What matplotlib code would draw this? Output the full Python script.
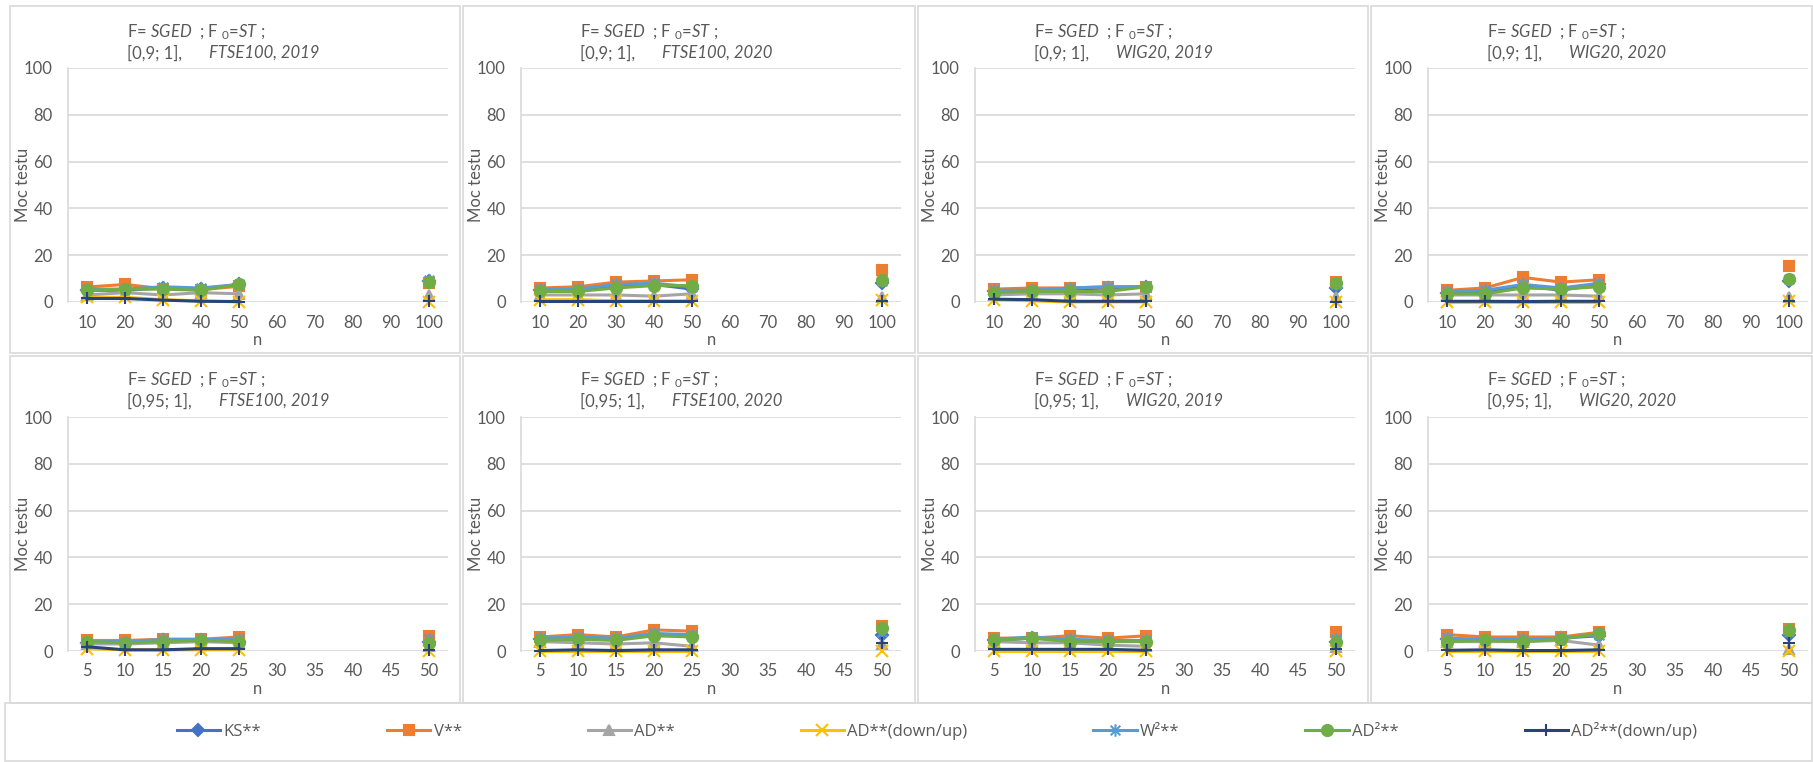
import numpy as np
import matplotlib
matplotlib.use("Agg")
import matplotlib.pyplot as plt
from matplotlib.path import Path
from matplotlib.patches import Rectangle

plt.rcParams['font.family'] = ['Lato', 'DejaVu Sans']
plt.rcParams['mathtext.fontset'] = 'custom'
plt.rcParams['mathtext.rm'] = 'Lato'
plt.rcParams['mathtext.it'] = 'Lato:italic'

# categories on the x axis (top row / bottom row); empty slots carry no data
n_top = ['10', '20', '30', '40', '50', '60', '70', '80', '90', '100']
n_bottom = ['5', '10', '15', '20', '25', '30', '35', '40', '45', '50']
data_slots = [0, 1, 2, 3, 4, 9]

intervals = ['[0,9; 1],'] * 4 + ['[0,95; 1],'] * 4
samples = ['FTSE100, 2019', 'FTSE100, 2020', 'WIG20, 2019', 'WIG20, 2020'] * 2

# power of each test (%), one row per panel, values at data_slots
ks = [[5, 5, 6, 5.5, 7.5, 9],
      [5, 5, 7, 7.5, 5.5, 8],
      [4.5, 4.5, 5.5, 6, 6.5, 6],
      [4, 4.5, 7, 5, 7.5, 9],
      [3.5, 3.5, 4.5, 4.5, 4, 4],
      [5, 5.5, 5, 7, 6.5, 7],
      [4.5, 5.5, 4.5, 4.5, 4, 4],
      [5, 5, 4.5, 5.5, 6.5, 7]]
v = [[6.4, 7.5, 5.7, 5.3, 6.7, 8],
     [6, 6.5, 8.5, 9, 9.5, 13.5],
     [5.5, 6, 6, 6.5, 6.5, 8.5],
     [5, 6, 10.5, 8.5, 9.5, 15.5],
     [4.5, 4.5, 5, 5, 6, 6.5],
     [6, 7, 6, 9, 8.5, 10.5],
     [5.5, 5.5, 6.5, 5.5, 6.5, 8],
     [7, 6, 6, 6, 8, 9.5]]
ad = [[3, 4, 3, 4, 3.5, 3],
      [3, 3, 3, 2.5, 3.5, 2],
      [3, 3.5, 3.5, 3, 3.5, 2],
      [3, 3, 3, 3, 2.5, 2],
      [3, 3, 3.5, 4, 3.5, 2],
      [4, 3.5, 3, 3.5, 2, 3],
      [4, 3.5, 3.5, 2.5, 2, 1.5],
      [4, 4, 4, 4.5, 2.5, 1]]
ad_du = [[2, 2, 1, 0.5, 0, 0],
         [1, 1, 0.5, 0.5, 0.5, 1],
         [1, 0.5, 0, 0, 0, 0],
         [0, 0, 0, 0, 0, 0.5],
         [1, 0.5, 0.5, 0.5, 0.5, 0],
         [0, 0, 0, 0, 0, 0],
         [0, 0, 0, 0, 0, 0],
         [0, 0, 0, 0, 0, 0]]
w2 = [[5.5, 5.5, 6.5, 6, 7.5, 9.5],
      [5.5, 5.5, 7.5, 8, 6.5, 9],
      [5, 5, 6, 6.5, 6.5, 7.5],
      [4.5, 5, 7.5, 6, 8, 10],
      [4, 4, 5, 5, 5, 5],
      [5.5, 6, 5.5, 7.5, 7, 8],
      [5, 6, 5, 4.5, 4.5, 5],
      [5.5, 5, 5, 5.5, 7, 8]]
ad2 = [[5, 5.5, 5.5, 5, 7.5, 8.5],
       [4.5, 4.5, 6, 7, 7, 9.5],
       [4, 4.5, 4.5, 4.5, 6.5, 8],
       [3.5, 3.5, 6, 5.5, 6.5, 10],
       [4, 3.5, 4, 4.5, 4, 3.5],
       [4.5, 5, 4.5, 6.5, 6, 10],
       [4.5, 5.5, 4, 4, 4, 4],
       [4, 4.5, 4, 5, 7.5, 9]]
ad2_du = [[1.5, 1.5, 0.8, 0.3, 0.2, 0.3],
          [0.5, 0.5, 0.5, 0.5, 0.5, 0.5],
          [1.2, 1, 0.3, 0.3, 0.3, 0.2],
          [0.3, 0.3, 0.2, 0.3, 0.3, 0.5],
          [1.8, 0.5, 0.5, 1, 1, 0.5],
          [0.2, 0.5, 0.2, 0.5, 0.5, 3.5],
          [0.7, 0.7, 0.7, 0.7, 0.3, 1],
          [0.3, 0.5, 0.2, 0.2, 0.5, 3.5]]

# asterisk-like marker: an x with a vertical bar through it
star = Path([(-1, -1), (1, 1), (-1, 1), (1, -1), (0, -1.3), (0, 1.3)],
            [Path.MOVETO, Path.LINETO, Path.MOVETO, Path.LINETO, Path.MOVETO, Path.LINETO])

series = [
    ('KS**', ks, '#4472C4', 'D', 6),
    ('V**', v, '#ED7D31', 's', 7),
    ('AD**', ad, '#A5A5A5', '^', 7),
    ('AD**(down/up)', ad_du, '#FFC000', 'x', 8),
    ('W²**', w2, '#5B9BD5', star, 9),
    ('AD²**', ad2, '#70AD47', 'o', 8),
    ('AD²**(down/up)', ad2_du, '#264478', '+', 9),
]

W, H = 1813, 762
TXT = '#595959'
GRID = '#D9D9D9'
FS = 12

fig = plt.figure(figsize=(W / 100, H / 100), dpi=100)

# panel frames and legend frame (pixel boxes)
frames_x = [(10, 460), (463, 915), (918, 1368), (1371, 1812)]
frames_y = [(6, 353), (356, 703)]
for y0, y1 in frames_y:
    for x0, x1 in frames_x:
        fig.patches.append(Rectangle((x0 / W, 1 - y1 / H), (x1 - x0) / W, (y1 - y0) / H,
                                     transform=fig.transFigure, fill=False,
                                     edgecolor=GRID, lw=1.2))
fig.patches.append(Rectangle((5 / W, 1 - 761 / H), 1807 / W, 58 / H,
                             transform=fig.transFigure, fill=False, edgecolor=GRID, lw=1.2))

ax_left = [68, 521, 975, 1428]
ax_width = 380
ax_top = [68, 417]
ax_h = 234

for p in range(8):
    row, col = divmod(p, 4)
    left = ax_left[col]
    top = ax_top[row]
    ax = fig.add_axes([left / W, 1 - (top + ax_h) / H, ax_width / W, ax_h / H])
    cats = n_top if row == 0 else n_bottom
    x = np.arange(len(cats))
    for label, vals, color, marker, ms in series:
        y = np.full(len(cats), np.nan)
        y[data_slots] = vals[p]
        ax.plot(x, y, color=color, lw=2.2, marker=marker, markersize=ms,
                markerfacecolor=color, markeredgecolor=color, markeredgewidth=1.5,
                label=label, clip_on=False)
    ax.set_xlim(-0.5, len(cats) - 0.5)
    ax.set_ylim(0, 100)
    ax.set_yticks(range(0, 101, 20))
    ax.set_xticks(x)
    ax.set_xticklabels(cats)
    ax.tick_params(length=0, colors=TXT, labelsize=FS)
    ax.tick_params(axis='y', pad=11)
    ax.tick_params(axis='x', pad=9)
    ax.grid(axis='y', color=GRID, lw=1.2)
    ax.set_axisbelow(True)
    for s in ['top', 'right', 'bottom']:
        ax.spines[s].set_visible(False)
    ax.spines['left'].set_color(GRID)
    ax.spines['left'].set_linewidth(1.2)
    ax.set_ylabel('Moc testu', color=TXT, fontsize=FS)
    ax.yaxis.label.set_va('center')
    ax.yaxis.set_label_coords(-45 / ax_width, 0.5)
    ax.set_xlabel('n', color=TXT, fontsize=FS)
    ax.xaxis.label.set_va('center')
    ax.xaxis.set_label_coords(0.5, -38 / ax_h)

    # two-line chart title
    tx = left + 59
    ty = 32 if row == 0 else 380
    fig.text(tx / W, 1 - ty / H, r'F= $\mathit{SGED}$  ; F $_{0}$=$\mathit{ST}$ ;',
             color=TXT, fontsize=FS, va='center', ha='left')
    fig.text(tx / W, 1 - (ty + 21) / H, intervals[p], color=TXT, fontsize=FS,
             va='center', ha='left')
    off = 82 if row == 0 else 92
    fig.text((tx + off) / W, 1 - (ty + 21) / H, samples[p], color=TXT, fontsize=FS,
             style='italic', va='center', ha='left')

handles, labels = ax.get_legend_handles_labels()
leg = fig.legend(handles, labels, loc='center', bbox_to_anchor=(937 / W, 1 - 731 / H),
                 ncol=7, frameon=False, prop={'family': 'Open Sans', 'size': 12},
                 handlelength=2.6, handletextpad=0.2, columnspacing=7.55)
for t in leg.get_texts():
    t.set_color(TXT)

fig.savefig('out.png', dpi=100, facecolor='white')
